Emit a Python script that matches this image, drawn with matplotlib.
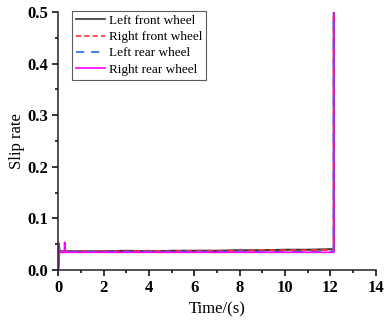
import matplotlib
matplotlib.use('Agg')
import matplotlib.pyplot as plt
from matplotlib.ticker import MultipleLocator, FormatStrFormatter

plt.rcParams.update({'font.family': 'Liberation Serif', 'font.size': 10,
                     'axes.spines.top': False, 'axes.spines.right': False})

# wheel slip rate over the braking run
t_lf = [0, 0.05, 0.1, 1, 2, 3, 4, 5, 6, 7, 8, 9, 10, 11, 12, 12.15, 12.15]
s_lf = [0, 0.036, 0.036, 0.036, 0.036, 0.037, 0.036, 0.037, 0.037, 0.037, 0.038, 0.038, 0.039, 0.039, 0.040, 0.040, 0.50]

t_rf = [0, 0.05, 0.1, 1, 2, 3, 4, 5, 6, 7, 8, 9, 10, 11, 12, 12.15, 12.15]
s_rf = [0, 0.037, 0.036, 0.036, 0.036, 0.036, 0.037, 0.036, 0.037, 0.037, 0.037, 0.038, 0.038, 0.038, 0.039, 0.039, 0.50]

t_lr = [0, 0.04, 0.08, 0.12, 1, 4, 8, 12, 12.15, 12.15]
s_lr = [0, 0.046, 0.034, 0.035, 0.035, 0.035, 0.035, 0.035, 0.035, 0.50]

t_rr = [0, 0.03, 0.06, 0.28, 0.28, 0.31, 0.31, 1, 4, 8, 12, 12.15, 12.15]
s_rr = [0, 0.052, 0.034, 0.034, 0.053, 0.053, 0.034, 0.034, 0.034, 0.034, 0.034, 0.034, 0.50]

fig = plt.figure(figsize=(3.85, 3.24), dpi=100)
ax = fig.add_axes([0.151, 0.167, 0.825, 0.796])

ax.plot(t_lf, s_lf, color='#333333', linewidth=1.5, label='Left front wheel')
ax.plot(t_rf, s_rf, color='#ff3333', linewidth=1.5, linestyle=(0, (3, 2)), label='Right front wheel')
ax.plot(t_lr, s_lr, color='#1f6fe0', linewidth=1.5, linestyle=(0, (5, 4)), label='Left rear wheel')
ax.plot(t_rr, s_rr, color='#ff00ff', linewidth=1.2, label='Right rear wheel')

ax.set_xlim(0, 14)
ax.set_ylim(0, 0.5)
ax.xaxis.set_major_locator(MultipleLocator(2))
ax.xaxis.set_minor_locator(MultipleLocator(1))
ax.yaxis.set_major_locator(MultipleLocator(0.1))
ax.yaxis.set_minor_locator(MultipleLocator(0.05))
ax.yaxis.set_major_formatter(FormatStrFormatter('%.1f'))
ax.tick_params(which='major', direction='out', length=4, width=1.1, pad=3)
ax.tick_params(which='minor', direction='out', length=2.5, width=1.1)
for lbl in ax.get_xticklabels() + ax.get_yticklabels():
    lbl.set_fontweight('bold')
    lbl.set_fontsize(12)
for sp in ax.spines.values():
    sp.set_color('#222222')
    sp.set_linewidth(1.1)

ax.set_xlabel('Time/(s)', fontsize=12)
ax.set_ylabel('Slip rate', fontsize=12, labelpad=2)

leg = ax.legend(loc='upper left', bbox_to_anchor=(0.022, 1.03), fontsize=9.5,
                frameon=True, fancybox=False, edgecolor='#333333',
                handlelength=2.2, labelspacing=0.3, borderpad=0.3, handletextpad=0.3)
leg.get_frame().set_linewidth(0.8)
for h in leg.get_lines():
    h.set_linewidth(1.2)

fig.savefig('out.png', dpi=100)
